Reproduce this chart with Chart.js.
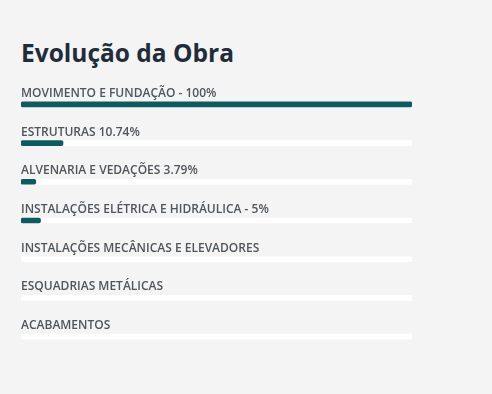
<!DOCTYPE html>
<html>
<head>
<meta charset="utf-8">
<script src="https://cdn.jsdelivr.net/npm/chart.js@4.4.0/dist/chart.umd.min.js"></script>
<style>
  html, body { margin: 0; padding: 0; background: #f4f4f4; }
  #wrap { position: relative; width: 492px; height: 394px; }
  h2 {
    position: absolute; left: 21px; top: 36px; margin: 0;
    font-family: "Open Sans", sans-serif; font-weight: 700; font-size: 24.5px;
    color: #1f2d3a;
  }
  canvas { position: absolute; left: 0; top: 0; }
</style>
</head>
<body>
<div id="wrap">
  <h2>Evolução da Obra</h2>
  <canvas id="progress-chart" width="492" height="394"></canvas>
</div>
<script>
// stages of the work and their progress
const stages = [
    'MOVIMENTO E FUNDAÇÃO - 100%',
    'ESTRUTURAS 10.74%',
    'ALVENARIA E VEDAÇÕES 3.79%',
    'INSTALAÇÕES ELÉTRICA E HIDRÁULICA - 5%',
    'INSTALAÇÕES MECÂNICAS E ELEVADORES',
    'ESQUADRIAS METÁLICAS',
    'ACABAMENTOS'
];
const progress = [100, 10.74, 3.79, 5, 0, 0, 0];
const track = [100, 100, 100, 100, 100, 100, 100];

// draws the stage name above each bar
const stageLabels = {
    id: 'stageLabels',
    afterDatasetsDraw(chart) {
        const ctx = chart.ctx;
        const yScale = chart.scales.y;
        const left = chart.chartArea.left;
        ctx.save();
        ctx.font = '600 12px "Open Sans", sans-serif';
        ctx.fillStyle = '#4f555b';
        ctx.textBaseline = 'alphabetic';
        ctx.textAlign = 'left';
        chart.data.labels.forEach((label, i) => {
            const y = yScale.getPixelForValue(i);
            ctx.fillText(label, left, y - 7.5);
        });
        ctx.restore();
    }
};

const ctx = document.getElementById('progress-chart').getContext('2d');
new Chart(ctx, {
    type: 'bar',
    data: {
        labels: stages,
        datasets: [{
            data: progress,
            // no mark at all for stages not started
            backgroundColor: c => (c.raw > 0 ? '#0b5b60' : 'rgba(0,0,0,0)'),
            borderRadius: 2,
            borderSkipped: false,
            barThickness: 5,
            grouped: false,
            order: 0
        }, {
            data: track,
            backgroundColor: '#ffffff',
            borderRadius: 2,
            borderSkipped: false,
            barThickness: 5,
            grouped: false,
            order: 1
        }]
    },
    options: {
        indexAxis: 'y',
        responsive: false,
        animation: false,
        layout: {
            padding: { top: 85, left: 21, right: 80, bottom: 38 }
        },
        plugins: {
            legend: { display: false },
            tooltip: { enabled: false }
        },
        scales: {
            x: { display: false, min: 0, max: 100 },
            y: { display: false }
        }
    },
    plugins: [stageLabels]
});
</script>
</body>
</html>
